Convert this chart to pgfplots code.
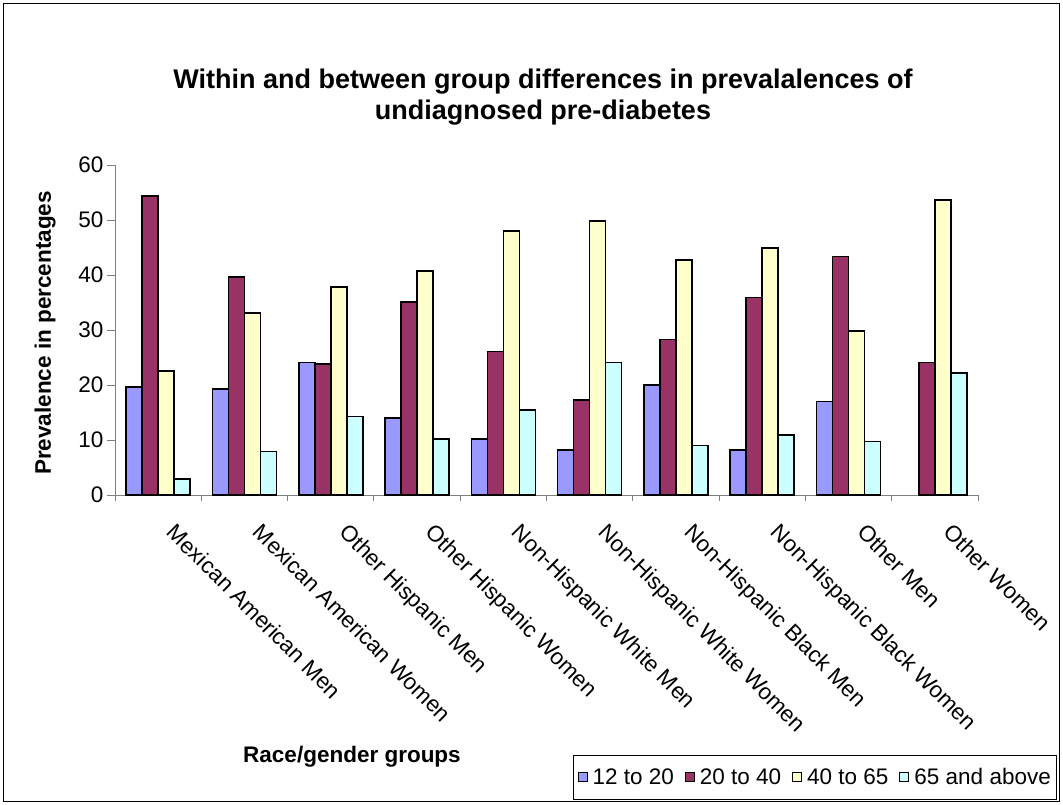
\documentclass[border=0pt]{standalone}
\usepackage{pgfplots}
\pgfplotsset{compat=1.18}
\usepackage{fontspec}
\setmainfont{Liberation Sans}
\definecolor{cA}{HTML}{9999FF}
\definecolor{cB}{HTML}{993366}
\definecolor{cC}{HTML}{FFFFCC}
\definecolor{cD}{HTML}{CCFFFF}
\begin{document}
\begin{tikzpicture}
\begin{scope}[x=1pt,y=-1pt]
\useasboundingbox (0,0) rectangle (1063,805);
\draw[line width=1.3pt] (3.5,3.5) rectangle (1059.5,801.5);
\end{scope}
\begin{axis}[
  at={(115pt,-495pt)}, anchor=south west,
  scale only axis, width=863pt, height=330pt,
  xmin=-0.5, xmax=9.5, ymin=0, ymax=60,
  ybar=0pt, bar width=16pt,
  axis x line*=bottom, axis y line*=left,
  axis line style={draw=black!50, line width=1pt},
  ytick={0,10,...,60},
  xtick={0,...,9},
  minor xtick={-0.5,0.5,...,9.5},
  xticklabels={Mexican American Men, Mexican American Women, Other Hispanic Men, Other Hispanic Women, Non-Hispanic White Men, Non-Hispanic White Women, Non-Hispanic Black Men, Non-Hispanic Black Women, Other Men, Other Women},
  tick align=outside,
  major tick length=8pt, minor tick length=6pt,
  major x tick style={draw=none},
  every tick/.style={draw=black!50, line width=1pt},
  minor x tick style={draw=black!50, line width=1pt},
  /pgf/number format/assume math mode=true,
  ticklabel style={font=\fontsize{22.5}{26}\selectfont},
  xticklabel style={xshift=19pt, yshift=-19pt, rotate=-45, anchor=north west, inner sep=0pt},
  legend columns=4,
  legend style={at={(0.5307,-0.7879)}, anchor=north west, draw=black, line width=1pt,
    font=\fontsize{22.5}{26}\selectfont, inner xsep=4pt, inner ysep=11pt,
    /tikz/every odd column/.style={column sep=3pt},
    /tikz/every even column/.style={column sep=9pt}},
  legend image code/.code={\draw[#1, draw=black, line width=1pt] (0pt,-4.5pt) rectangle (9pt,4.5pt);},
]
\addplot[fill=cA, draw=black, line width=1.6pt] coordinates {(0,19.6) (1,19.3) (2,24.1) (3,14.0) (4,10.2) (5,8.2) (6,20.0) (7,8.2) (8,17.0)};
\addplot[fill=cB, draw=black, line width=1.6pt] coordinates {(0,54.4) (1,39.6) (2,23.8) (3,35.1) (4,26.1) (5,17.3) (6,28.3) (7,35.9) (8,43.4) (9,24.1)};
\addplot[fill=cC, draw=black, line width=1.6pt] coordinates {(0,22.6) (1,33.1) (2,37.8) (3,40.7) (4,48.0) (5,49.8) (6,42.7) (7,44.9) (8,29.8) (9,53.6)};
\addplot[fill=cD, draw=black, line width=1.6pt] coordinates {(0,2.9) (1,7.9) (2,14.3) (3,10.2) (4,15.5) (5,24.1) (6,9.0) (7,10.9) (8,9.7) (9,22.2)};
\legend{12 to 20, 20 to 40, 40 to 65, 65 and above}
\end{axis}
\begin{scope}[x=1pt,y=-1pt]
\node[font=\fontsize{27}{31}\selectfont\bfseries, align=center] at (543,97) {Within and between group differences in prevalalences of\\undiagnosed pre-diabetes};
\node[font=\fontsize{22.5}{26}\selectfont\bfseries, rotate=90] at (45,333) {Prevalence in percentages};
\node[font=\fontsize{22.5}{26}\selectfont\bfseries] at (352,757) {Race/gender groups};
\end{scope}
\end{tikzpicture}
\end{document}
